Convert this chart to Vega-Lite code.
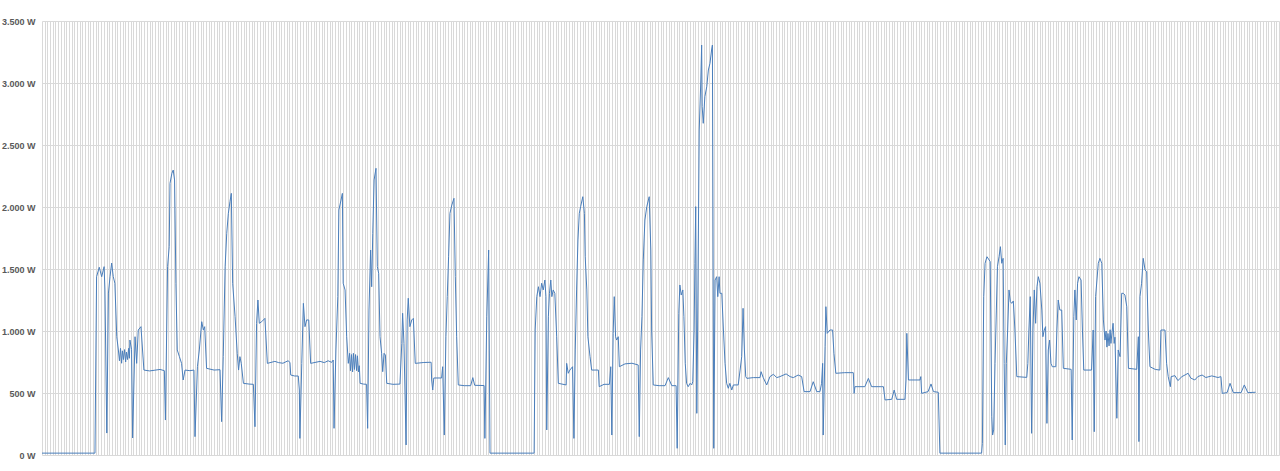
{
  "$schema": "https://vega.github.io/schema/vega-lite/v6.json",
  "width": 1237,
  "height": 434,
  "autosize": "none",
  "padding": {"left": 42, "top": 21, "right": 1, "bottom": 16},
  "background": "white",
  "config": {"view": {"stroke": null}},
  "data": {"values": [
{"t":0,"w":15},{"t":197,"w":15},{"t":203,"w":1438},{"t":213,"w":1514},{"t":222,"w":1438},{"t":231,"w":1519},{"t":234,"w":1331},{"t":241,"w":177},{"t":247,"w":1306},{"t":253,"w":1438},{"t":259,"w":1548},{"t":265,"w":1438},{"t":271,"w":1385},{"t":278,"w":954},{"t":284,"w":847},{"t":288,"w":760},{"t":292,"w":860},{"t":296,"w":740},{"t":299,"w":840},{"t":303,"w":770},{"t":307,"w":850},{"t":311,"w":750},{"t":314,"w":830},{"t":318,"w":770},{"t":322,"w":860},{"t":325,"w":780},{"t":327,"w":927},{"t":333,"w":850},{"t":337,"w":137},{"t":346,"w":954},{"t":352,"w":739},{"t":358,"w":1008},{"t":368,"w":1035},{"t":379,"w":685},{"t":400,"w":678},{"t":420,"w":684},{"t":439,"w":690},{"t":455,"w":680},{"t":459,"w":282},{"t":467,"w":1519},{"t":473,"w":1680},{"t":476,"w":2191},{"t":483,"w":2272},{"t":488,"w":2298},{"t":493,"w":2218},{"t":498,"w":1385},{"t":503,"w":847},{"t":511,"w":793},{"t":519,"w":739},{"t":525,"w":605},{"t":532,"w":685},{"t":550,"w":680},{"t":565,"w":685},{"t":569,"w":148},{"t":578,"w":712},{"t":585,"w":847},{"t":594,"w":1075},{"t":600,"w":1008},{"t":605,"w":1035},{"t":612,"w":699},{"t":640,"w":685},{"t":662,"w":688},{"t":668,"w":269},{"t":674,"w":793},{"t":681,"w":1519},{"t":687,"w":1788},{"t":693,"w":1949},{"t":699,"w":2043},{"t":704,"w":2110},{"t":709,"w":1385},{"t":718,"w":1115},{"t":726,"w":820},{"t":731,"w":685},{"t":736,"w":793},{"t":741,"w":739},{"t":749,"w":578},{"t":770,"w":572},{"t":786,"w":570},{"t":792,"w":228},{"t":798,"w":1062},{"t":803,"w":1250},{"t":808,"w":1062},{"t":817,"w":1075},{"t":829,"w":1102},{"t":838,"w":739},{"t":866,"w":755},{"t":880,"w":745},{"t":896,"w":740},{"t":915,"w":760},{"t":922,"w":747},{"t":925,"w":645},{"t":940,"w":637},{"t":953,"w":637},{"t":957,"w":524},{"t":959,"w":134},{"t":966,"w":739},{"t":972,"w":1223},{"t":978,"w":1035},{"t":984,"w":1089},{"t":992,"w":1089},{"t":999,"w":739},{"t":1034,"w":755},{"t":1050,"w":745},{"t":1064,"w":760},{"t":1077,"w":747},{"t":1083,"w":766},{"t":1086,"w":215},{"t":1093,"w":847},{"t":1100,"w":1277},{"t":1104,"w":1976},{"t":1112,"w":2056},{"t":1117,"w":2110},{"t":1120,"w":1385},{"t":1127,"w":1331},{"t":1133,"w":954},{"t":1139,"w":739},{"t":1144,"w":820},{"t":1147,"w":680},{"t":1151,"w":810},{"t":1155,"w":670},{"t":1158,"w":820},{"t":1162,"w":690},{"t":1166,"w":810},{"t":1170,"w":680},{"t":1173,"w":800},{"t":1177,"w":670},{"t":1180,"w":720},{"t":1183,"w":578},{"t":1195,"w":572},{"t":1207,"w":570},{"t":1211,"w":215},{"t":1216,"w":1169},{"t":1222,"w":1653},{"t":1226,"w":1357},{"t":1230,"w":1788},{"t":1235,"w":2218},{"t":1242,"w":2312},{"t":1247,"w":1519},{"t":1252,"w":1465},{"t":1257,"w":954},{"t":1263,"w":820},{"t":1267,"w":672},{"t":1272,"w":820},{"t":1277,"w":806},{"t":1282,"w":578},{"t":1305,"w":570},{"t":1331,"w":572},{"t":1338,"w":901},{"t":1341,"w":1143},{"t":1346,"w":901},{"t":1354,"w":81},{"t":1358,"w":1089},{"t":1362,"w":1264},{"t":1368,"w":1035},{"t":1375,"w":1089},{"t":1381,"w":1102},{"t":1388,"w":739},{"t":1420,"w":746},{"t":1447,"w":748},{"t":1449,"w":605},{"t":1453,"w":524},{"t":1457,"w":621},{"t":1486,"w":621},{"t":1490,"w":712},{"t":1496,"w":161},{"t":1502,"w":954},{"t":1507,"w":1277},{"t":1512,"w":1599},{"t":1517,"w":1949},{"t":1524,"w":2016},{"t":1532,"w":2070},{"t":1537,"w":1438},{"t":1542,"w":954},{"t":1548,"w":565},{"t":1570,"w":559},{"t":1594,"w":559},{"t":1602,"w":624},{"t":1609,"w":562},{"t":1644,"w":560},{"t":1647,"w":134},{"t":1654,"w":1115},{"t":1661,"w":1653},{"t":1666,"w":15},{"t":1830,"w":15},{"t":1834,"w":1008},{"t":1840,"w":1277},{"t":1846,"w":1357},{"t":1852,"w":1277},{"t":1858,"w":1385},{"t":1864,"w":1331},{"t":1870,"w":1411},{"t":1874,"w":1277},{"t":1877,"w":202},{"t":1883,"w":1115},{"t":1887,"w":1304},{"t":1892,"w":1411},{"t":1896,"w":1277},{"t":1901,"w":1331},{"t":1907,"w":1304},{"t":1914,"w":954},{"t":1920,"w":578},{"t":1949,"w":565},{"t":1951,"w":739},{"t":1957,"w":659},{"t":1963,"w":685},{"t":1973,"w":712},{"t":1978,"w":134},{"t":1983,"w":847},{"t":1988,"w":1331},{"t":1993,"w":1734},{"t":1998,"w":1949},{"t":2003,"w":2003},{"t":2011,"w":2083},{"t":2017,"w":1949},{"t":2020,"w":1599},{"t":2026,"w":1331},{"t":2030,"w":954},{"t":2038,"w":793},{"t":2044,"w":685},{"t":2069,"w":685},{"t":2072,"w":551},{"t":2090,"w":570},{"t":2110,"w":570},{"t":2115,"w":712},{"t":2119,"w":161},{"t":2124,"w":981},{"t":2128,"w":1277},{"t":2133,"w":954},{"t":2137,"w":927},{"t":2143,"w":954},{"t":2147,"w":712},{"t":2168,"w":735},{"t":2194,"w":740},{"t":2217,"w":726},{"t":2221,"w":148},{"t":2226,"w":847},{"t":2231,"w":1115},{"t":2236,"w":1573},{"t":2242,"w":1895},{"t":2249,"w":2003},{"t":2258,"w":2083},{"t":2264,"w":1653},{"t":2267,"w":1008},{"t":2273,"w":565},{"t":2295,"w":559},{"t":2317,"w":559},{"t":2329,"w":624},{"t":2342,"w":559},{"t":2358,"w":559},{"t":2362,"w":54},{"t":2368,"w":1143},{"t":2372,"w":1371},{"t":2377,"w":1290},{"t":2383,"w":1331},{"t":2387,"w":1115},{"t":2392,"w":739},{"t":2397,"w":578},{"t":2403,"w":551},{"t":2410,"w":578},{"t":2416,"w":565},{"t":2420,"w":591},{"t":2425,"w":1008},{"t":2428,"w":1546},{"t":2431,"w":2003},{"t":2435,"w":336},{"t":2438,"w":1008},{"t":2444,"w":2621},{"t":2450,"w":3024},{"t":2453,"w":3306},{"t":2455,"w":2809},{"t":2459,"w":2675},{"t":2465,"w":2890},{"t":2472,"w":2970},{"t":2478,"w":3105},{"t":2484,"w":3159},{"t":2490,"w":3266},{"t":2493,"w":3306},{"t":2498,"w":54},{"t":2503,"w":1411},{"t":2509,"w":1438},{"t":2513,"w":1277},{"t":2518,"w":1438},{"t":2521,"w":1304},{"t":2528,"w":1304},{"t":2534,"w":1008},{"t":2540,"w":739},{"t":2546,"w":578},{"t":2552,"w":538},{"t":2558,"w":578},{"t":2565,"w":524},{"t":2571,"w":565},{"t":2589,"w":565},{"t":2596,"w":685},{"t":2602,"w":793},{"t":2607,"w":1183},{"t":2612,"w":847},{"t":2617,"w":632},{"t":2621,"w":618},{"t":2645,"w":624},{"t":2670,"w":624},{"t":2674,"w":672},{"t":2682,"w":624},{"t":2695,"w":565},{"t":2707,"w":632},{"t":2720,"w":651},{"t":2732,"w":624},{"t":2744,"w":632},{"t":2767,"w":654},{"t":2782,"w":632},{"t":2794,"w":624},{"t":2812,"w":645},{"t":2825,"w":632},{"t":2834,"w":511},{"t":2856,"w":511},{"t":2868,"w":591},{"t":2881,"w":511},{"t":2893,"w":511},{"t":2899,"w":578},{"t":2903,"w":739},{"t":2905,"w":161},{"t":2912,"w":874},{"t":2915,"w":1196},{"t":2920,"w":981},{"t":2930,"w":1008},{"t":2940,"w":1008},{"t":2945,"w":820},{"t":2952,"w":659},{"t":2985,"w":664},{"t":3017,"w":664},{"t":3020,"w":497},{"t":3023,"w":551},{"t":3060,"w":551},{"t":3073,"w":618},{"t":3085,"w":551},{"t":3123,"w":551},{"t":3129,"w":551},{"t":3135,"w":444},{"t":3160,"w":449},{"t":3169,"w":524},{"t":3178,"w":449},{"t":3209,"w":449},{"t":3213,"w":605},{"t":3216,"w":981},{"t":3222,"w":605},{"t":3265,"w":605},{"t":3268,"w":632},{"t":3271,"w":497},{"t":3295,"w":511},{"t":3306,"w":573},{"t":3315,"w":511},{"t":3333,"w":506},{"t":3339,"w":15},{"t":3494,"w":15},{"t":3497,"w":94},{"t":3502,"w":1277},{"t":3507,"w":1546},{"t":3514,"w":1599},{"t":3522,"w":1573},{"t":3526,"w":1559},{"t":3532,"w":309},{"t":3535,"w":161},{"t":3539,"w":202},{"t":3544,"w":739},{"t":3549,"w":1169},{"t":3553,"w":1519},{"t":3559,"w":1599},{"t":3564,"w":1680},{"t":3569,"w":1546},{"t":3574,"w":1586},{"t":3578,"w":739},{"t":3582,"w":81},{"t":3586,"w":739},{"t":3591,"w":1008},{"t":3596,"w":1331},{"t":3601,"w":1237},{"t":3606,"w":1223},{"t":3612,"w":1242},{"t":3618,"w":1008},{"t":3625,"w":632},{"t":3662,"w":626},{"t":3666,"w":739},{"t":3670,"w":1008},{"t":3675,"w":1277},{"t":3680,"w":175},{"t":3685,"w":1008},{"t":3690,"w":1331},{"t":3695,"w":1062},{"t":3700,"w":1357},{"t":3705,"w":1438},{"t":3711,"w":1385},{"t":3718,"w":1169},{"t":3722,"w":954},{"t":3727,"w":1008},{"t":3732,"w":1035},{"t":3737,"w":255},{"t":3742,"w":847},{"t":3747,"w":927},{"t":3752,"w":739},{"t":3757,"w":712},{"t":3770,"w":712},{"t":3774,"w":1008},{"t":3779,"w":1250},{"t":3785,"w":1169},{"t":3792,"w":1169},{"t":3798,"w":699},{"t":3827,"w":691},{"t":3831,"w":121},{"t":3837,"w":1115},{"t":3841,"w":1331},{"t":3846,"w":1089},{"t":3851,"w":1385},{"t":3856,"w":1438},{"t":3864,"w":1411},{"t":3869,"w":1008},{"t":3874,"w":685},{"t":3903,"w":685},{"t":3909,"w":1008},{"t":3913,"w":188},{"t":3918,"w":1277},{"t":3923,"w":1411},{"t":3928,"w":1546},{"t":3934,"w":1586},{"t":3941,"w":1546},{"t":3947,"w":1089},{"t":3953,"w":927},{"t":3957,"w":1000},{"t":3960,"w":870},{"t":3964,"w":980},{"t":3968,"w":880},{"t":3972,"w":1010},{"t":3975,"w":900},{"t":3979,"w":990},{"t":3983,"w":1062},{"t":3987,"w":900},{"t":3990,"w":950},{"t":3997,"w":296},{"t":4002,"w":847},{"t":4009,"w":793},{"t":4015,"w":1304},{"t":4021,"w":1304},{"t":4027,"w":1290},{"t":4034,"w":1196},{"t":4040,"w":699},{"t":4071,"w":691},{"t":4077,"w":954},{"t":4079,"w":108},{"t":4083,"w":1277},{"t":4089,"w":1385},{"t":4095,"w":1586},{"t":4102,"w":1492},{"t":4108,"w":1478},{"t":4114,"w":1008},{"t":4120,"w":712},{"t":4140,"w":690},{"t":4157,"w":685},{"t":4161,"w":1008},{"t":4176,"w":1008},{"t":4182,"w":739},{"t":4188,"w":632},{"t":4196,"w":551},{"t":4199,"w":632},{"t":4213,"w":640},{"t":4224,"w":600},{"t":4239,"w":632},{"t":4262,"w":659},{"t":4272,"w":620},{"t":4287,"w":605},{"t":4298,"w":632},{"t":4314,"w":645},{"t":4328,"w":625},{"t":4350,"w":638},{"t":4373,"w":625},{"t":4384,"w":632},{"t":4389,"w":497},{"t":4407,"w":503},{"t":4418,"w":578},{"t":4430,"w":503},{"t":4459,"w":503},{"t":4471,"w":565},{"t":4484,"w":503},{"t":4513,"w":506}
  ]},
  "mark": {"type": "line", "color": "#4a7ebb", "strokeWidth": 1, "interpolate": "linear"},
  "encoding": {
    "x": {
      "field": "t", "type": "quantitative",
      "scale": {"domain": [0, 4600], "nice": false, "zero": false},
      "axis": {"title": null, "labels": false, "ticks": false, "domain": false, "grid": true, "tickCount": 460, "gridColor": "#d9d9d9", "gridWidth": 1}
    },
    "y": {
      "field": "w", "type": "quantitative",
      "scale": {"domain": [0, 3500], "nice": false},
      "axis": {
        "title": null, "values": [0, 500, 1000, 1500, 2000, 2500, 3000, 3500],
        "labelExpr": "replace(format(datum.value, ','), ',', '.') + ' W'",
        "ticks": false, "domain": false, "grid": true, "gridColor": "#d9d9d9",
        "labelPadding": 7, "labelFont": "Liberation Sans", "labelFontSize": 9, "labelFontWeight": "bold", "labelColor": "#595959"
      }
    }
  }
}
